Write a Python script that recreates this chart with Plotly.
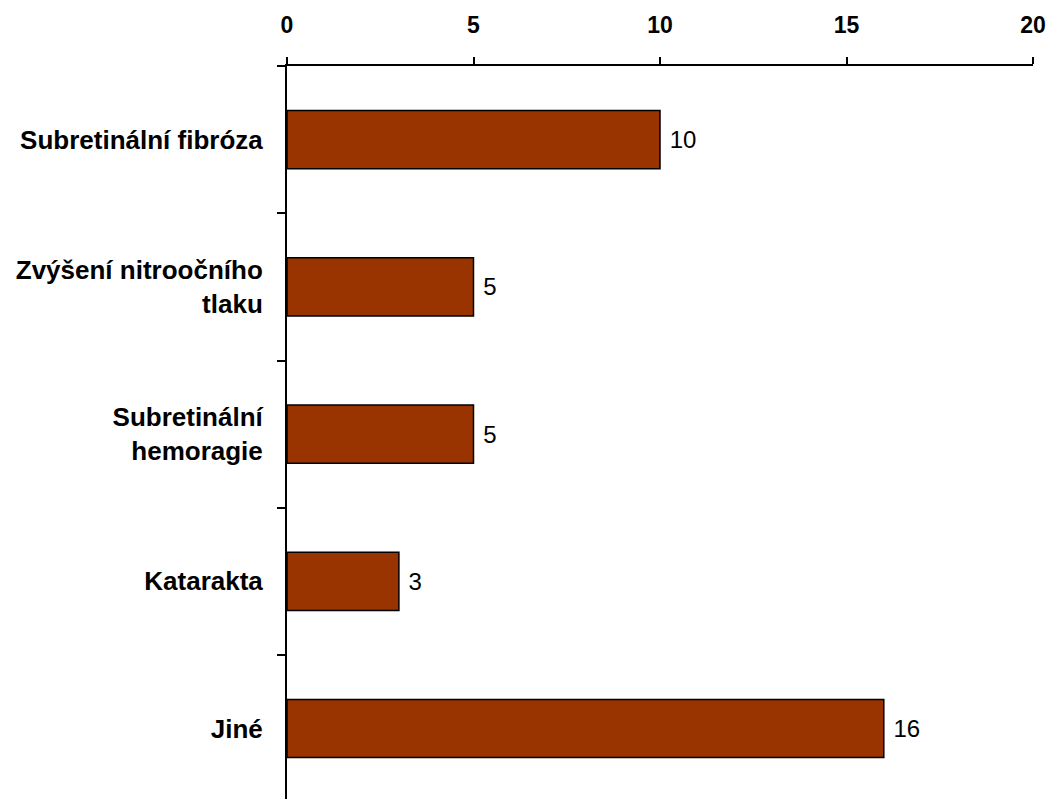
import plotly.graph_objects as go

categories = ["Subretinální fibróza", "Zvýšení nitroočního<br>tlaku", "Subretinální<br>hemoragie", "Katarakta", "Jiné"]
values = [10, 5, 5, 3, 16]
x_ticks = [0, 5, 10, 15, 20]

fig = go.Figure()
fig.add_trace(go.Bar(
    y=categories,
    x=values,
    orientation="h",
    marker=dict(color="#993300", line=dict(color="black", width=1.5)),
    width=0.394,
    text=[str(v) for v in values],
    texttemplate=" %{text}",
    textposition="outside",
    textfont=dict(family="Liberation Sans, Arial", size=24, color="black"),
    cliponaxis=False,
))

fig.update_layout(
    width=1050, height=799,
    margin=dict(l=287, r=17, t=66, b=0),
    paper_bgcolor="white", plot_bgcolor="white",
    showlegend=False,
    font=dict(family="Liberation Sans, Arial", color="black"),
    xaxis=dict(
        side="top", range=[0, 20], tickvals=x_ticks, ticktext=[str(t) for t in x_ticks],
        ticks="outside", ticklen=7, tickwidth=2, tickcolor="black",
        showline=True, linecolor="black", linewidth=2,
        showgrid=False, zeroline=False,
        tickfont=dict(family="Liberation Sans, Arial", size=23, color="black", weight="bold"),
        ticklabelstandoff=15,
        ticklabeloverflow="allow",
    ),
    yaxis=dict(
        type="category", categoryorder="array", categoryarray=categories,
        range=[4.478, -0.5],
        ticks="outside", ticklen=8, tickwidth=2, tickcolor="black", tickson="boundaries",
        showline=True, linecolor="black", linewidth=2,
        showgrid=False, zeroline=False,
        tickfont=dict(family="Liberation Sans, Arial", size=26, color="black", weight="bold"),
        ticklabelstandoff=17,
    ),
)

fig.write_html(
    "out.html",
    config={"displayModeBar": False},
    post_script="document.body.style.margin='0';document.documentElement.style.overflow='hidden';",
)
